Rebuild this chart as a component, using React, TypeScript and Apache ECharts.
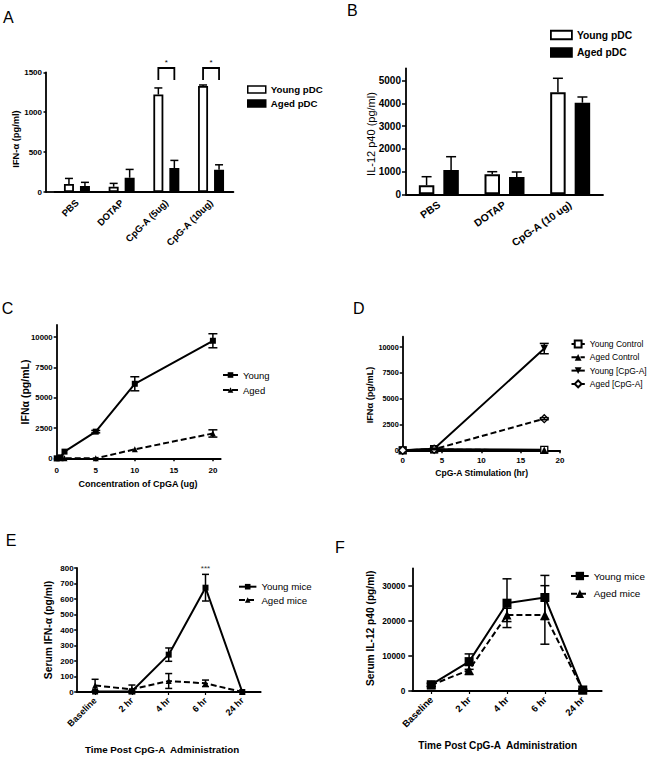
import React, { useEffect, useRef } from "react";
import * as echarts from "echarts";

const FONT = '"Liberation Sans", Arial, Helvetica, sans-serif';

// ---------- Panel A ----------
const aCategories = ["PBS", "DOTAP", "CpG-A (5ug)", "CpG-A (10ug)"];
const aYoung = [100, 66, 1221, 1329];
const aYoungErr = [70, 42, 83, 12];
const aAged = [75, 179, 300, 279];
const aAgedErr = [46, 104, 96, 62];
const aSignifCats = [2, 3];
const aBracketTop = 1554;
const aBracketArm = 1404;
const aYTicks = [0, 500, 1000, 1500];

// ---------- Panel B ----------
const bCategories = ["PBS", "DOTAP", "CpG-A (10 ug)"];
const bYoung = [396, 880, 4493];
const bYoungErr = [379, 116, 617];
const bAged = [1070, 762, 4035];
const bAgedErr = [586, 220, 251];
const bYTicks = [0, 1000, 2000, 3000, 4000, 5000];

// ---------- Panel C ----------
const cDose = [0, 0.5, 1, 5, 10, 20];
const cYoung = [0, 80, 550, 2200, 6150, 9700];
const cYoungErr = [0, 0, 0, 100, 580, 580];
const cAged = [0, 0, 0, 0, 740, 2050];
const cAgedErr = [0, 0, 0, 0, 0, 300];
const cXTicks = [0, 5, 10, 15, 20];
const cYTicks = [0, 2500, 5000, 7500, 10000];

// ---------- Panel D ----------
const dHours = [0, 4, 18];
const dYoungControl = [0, 100, 50];
const dAgedControl = [0, 80, 0];
const dYoungCpG = [0, 150, 9850];
const dYoungCpGErr = [0, 60, 500];
const dAgedCpG = [0, 100, 3060];
const dAgedCpGErr = [0, 40, 100];
const dXTicks = [0, 5, 10, 15, 20];
const dYTicks = [0, 2500, 5000, 7500, 10000];

// ---------- Panels E & F ----------
const timeCategories = ["Baseline", "2 hr", "4 hr", "6 hr", "24 hr"];
const eYoung = [3, 5, 241, 673, 0];
const eYoungErr = [5, 5, 43, 86, 0];
const eAged = [42, 17, 71, 56, 0];
const eAgedErr = [40, 28, 48, 21, 0];
const eYTicks = [0, 100, 200, 300, 400, 500, 600, 700, 800];
const eStarCat = 3;
const eStarValue = 795;

const fYoung = [1800, 8380, 25050, 26670, 300];
const fYoungErr = [500, 2200, 6950, 6300, 200];
const fAged = [1700, 6000, 21700, 21700, 300];
const fAgedErr = [400, 1300, 1900, 8350, 200];
const fYTicks = [0, 10000, 20000, 30000];

const BLACK = "#000";
const plain = (v: number) => String(v);

function yAxisCfg(gridIndex: number, max: number, ticks: number[], fontSize: number, margin: number, tickLen: number, extra: any = {}) {
  return {
    type: "value",
    gridIndex,
    min: 0,
    max,
    splitLine: { show: false },
    axisLine: { show: true, lineStyle: { color: BLACK, width: 1.8 } },
    axisTick: { show: true, inside: false, length: tickLen, lineStyle: { color: BLACK, width: 1.5 }, customValues: ticks },
    axisLabel: { color: BLACK, fontFamily: FONT, fontWeight: "bold", fontSize, margin, customValues: ticks, formatter: plain },
    ...extra,
  };
}

function errSeries(xAxisIndex: number, yAxisIndex: number, data: number[][], dx: number, cap: number, upOnly: boolean) {
  return {
    type: "custom",
    xAxisIndex,
    yAxisIndex,
    silent: true,
    z: 4,
    encode: { x: 0, y: 1 },
    data,
    renderItem: (params: any, api: any) => {
      const x = api.value(0);
      const y = api.value(1);
      const e = api.value(2);
      if (!e) return null;
      const top = api.coord([x, y + e]);
      const bot = api.coord([x, upOnly ? y : y - e]);
      const cx = top[0] + dx;
      const st = { stroke: BLACK, lineWidth: 1.5 };
      const children: any[] = [
        { type: "line", shape: { x1: cx, y1: top[1], x2: cx, y2: bot[1] }, style: st },
        { type: "line", shape: { x1: cx - cap, y1: top[1], x2: cx + cap, y2: top[1] }, style: st },
      ];
      if (!upOnly) children.push({ type: "line", shape: { x1: cx - cap, y1: bot[1], x2: cx + cap, y2: bot[1] }, style: st });
      return { type: "group", children };
    },
  };
}

function textEl(text: string, x: number, y: number, size: number, weight: string, rotation = 0, align = "center") {
  return {
    type: "text",
    x,
    y,
    rotation,
    silent: true,
    style: {
      text,
      fill: BLACK,
      fontFamily: FONT,
      fontSize: size,
      fontWeight: weight,
      align,
      verticalAlign: "middle",
      textAlign: align,
      textVerticalAlign: "middle",
    },
  };
}

function legendCfg(names: string[], left: number, top: number, w: number, h: number, gap: number, size: number, weight: string, lh: number, extra: any = {}) {
  return {
    data: names,
    orient: "vertical",
    left,
    top,
    padding: 0,
    itemWidth: w,
    itemHeight: h,
    itemGap: gap,
    selectedMode: false,
    textStyle: { color: BLACK, fontFamily: FONT, fontSize: size, fontWeight: weight, lineHeight: lh },
    ...extra,
  };
}

const A_BW = 10;
const A_GAP = 6;
const A_OFF = (A_BW + A_GAP) / 2;
const B_BW = 15.5;
const B_GAP = 9;
const B_OFF = (B_BW + B_GAP) / 2;

export default function App() {
  const ref = useRef<HTMLDivElement>(null);

  useEffect(() => {
    document.body.style.margin = "0";
    if (!ref.current) return;
    const chart = echarts.init(ref.current, null, { renderer: "svg" });

    const grids = [
      { left: 54.6, top: 72.3, width: 178.8, height: 119.7 }, // A
      { left: 406, top: 68.3, width: 197, height: 126 }, // B
      { left: 56.7, top: 325, width: 164, height: 133.3 }, // C
      { left: 402.7, top: 336.7, width: 157.3, height: 113.6 }, // D
      { left: 76.7, top: 568, width: 184, height: 124 }, // E
      { left: 412.3, top: 568.3, width: 189.4, height: 122.7 }, // F
    ].map((g) => ({ ...g, containLabel: false, outerBoundsMode: "none" }));

    const catAxisBase = {
      type: "category",
      axisLine: { show: true, lineStyle: { color: BLACK, width: 1.8 } },
      axisLabel: { color: BLACK, fontFamily: FONT, fontWeight: "bold", interval: 0 },
      splitLine: { show: false },
    };

    const valXAxis = (gridIndex: number, max: number, ticks: number[], margin: number) => ({
      type: "value",
      gridIndex,
      min: 0,
      max,
      splitLine: { show: false },
      axisLine: { show: true, lineStyle: { color: BLACK, width: 1.8 } },
      axisTick: { show: true, length: 3, lineStyle: { color: BLACK, width: 1.5 }, customValues: ticks },
      axisLabel: { color: BLACK, fontFamily: FONT, fontWeight: "bold", fontSize: 8, margin, customValues: ticks, formatter: plain },
    });

    const xAxes = [
      { ...catAxisBase, gridIndex: 0, data: aCategories, axisTick: { show: false }, axisLabel: { ...catAxisBase.axisLabel, rotate: 45, fontSize: 9.5, margin: 9 } },
      { ...catAxisBase, gridIndex: 1, data: bCategories, axisTick: { show: false }, axisLabel: { ...catAxisBase.axisLabel, rotate: 35, fontSize: 10.5, margin: 9 } },
      valXAxis(2, 21, cXTicks, 8),
      valXAxis(3, 20, dXTicks, 6.5),
      { ...catAxisBase, gridIndex: 4, data: timeCategories, axisTick: { show: true, alignWithLabel: true, length: 3, lineStyle: { color: BLACK, width: 1.2 } }, axisLabel: { ...catAxisBase.axisLabel, rotate: 45, fontSize: 9, margin: 7 } },
      { ...catAxisBase, gridIndex: 5, data: timeCategories, axisTick: { show: true, alignWithLabel: true, length: 3, lineStyle: { color: BLACK, width: 1.2 } }, axisLabel: { ...catAxisBase.axisLabel, rotate: 45, fontSize: 9.5, margin: 7 } },
    ];

    const yAxes = [
      yAxisCfg(0, 1500, aYTicks, 8, 4, 2.5, { offset: 8.6 }),
      yAxisCfg(1, 5550, bYTicks, 10, 5, 4),
      yAxisCfg(2, 11000, cYTicks, 7.8, 4, 3),
      yAxisCfg(3, 11000, dYTicks, 7.3, 4, 3),
      yAxisCfg(4, 800, eYTicks, 8, 3, 2.5),
      yAxisCfg(5, 35000, fYTicks, 8.3, 7, 4),
    ];

    const lineBase = (name: string, xi: number, data: any[], symbol: string, size: number, dashed: boolean, open = false, rotate = 0, lw = 2) => ({
      type: "line",
      name,
      xAxisIndex: xi,
      yAxisIndex: xi,
      data,
      symbol,
      symbolSize: size,
      symbolRotate: rotate,
      showSymbol: true,
      z: 3,
      lineStyle: { color: BLACK, width: lw, type: dashed ? [6, 3] : "solid" },
      itemStyle: open ? { color: "#fff", borderColor: BLACK, borderWidth: 1.3 } : { color: BLACK, borderColor: BLACK, borderWidth: 0 },
      emphasis: { disabled: true },
    });

    const pair = (xs: number[], ys: number[]) => xs.map((x, i) => [x, ys[i]]);
    const trip = (xs: number[], ys: number[], es: number[]) => xs.map((x, i) => [x, ys[i], es[i]]);
    const idx = (arr: number[]) => arr.map((_, i) => i);

    const series: any[] = [
      // A bars
      { type: "bar", name: "Young pDC", xAxisIndex: 0, yAxisIndex: 0, data: aYoung, barWidth: A_BW, barGap: `${(A_GAP / A_BW) * 100}%`, itemStyle: { color: "#fff", borderColor: BLACK, borderWidth: 1.8 }, emphasis: { disabled: true } },
      { type: "bar", name: "Aged pDC", xAxisIndex: 0, yAxisIndex: 0, data: aAged, barWidth: A_BW, barGap: `${(A_GAP / A_BW) * 100}%`, itemStyle: { color: BLACK, borderColor: BLACK, borderWidth: 1.8 }, emphasis: { disabled: true } },
      errSeries(0, 0, trip(idx(aYoung), aYoung, aYoungErr), -A_OFF, 4, true),
      errSeries(0, 0, trip(idx(aAged), aAged, aAgedErr), A_OFF, 4, true),
      {
        type: "custom",
        xAxisIndex: 0,
        yAxisIndex: 0,
        silent: true,
        z: 5,
        encode: { x: 0, y: 1 },
        data: aSignifCats.map((c) => [c, aBracketTop, aBracketArm]),
        renderItem: (params: any, api: any) => {
          const top = api.coord([api.value(0), api.value(1)]);
          const arm = api.coord([api.value(0), api.value(2)]);
          const cx = top[0];
          return {
            type: "group",
            children: [
              {
                type: "polyline",
                shape: { points: [[cx - A_OFF, arm[1]], [cx - A_OFF, top[1]], [cx + A_OFF, top[1]], [cx + A_OFF, arm[1]]] },
                style: { stroke: BLACK, fill: "none", lineWidth: 1.8 },
              },
              { type: "text", x: cx, y: top[1] - 5, style: { text: "*", fill: BLACK, fontFamily: FONT, fontSize: 8, align: "center", verticalAlign: "middle" } },
            ],
          };
        },
      },
      // B bars
      { type: "bar", name: "Young pDC", xAxisIndex: 1, yAxisIndex: 1, data: bYoung, barWidth: B_BW, barGap: `${(B_GAP / B_BW) * 100}%`, itemStyle: { color: "#fff", borderColor: BLACK, borderWidth: 2 }, emphasis: { disabled: true } },
      { type: "bar", name: "Aged pDC", xAxisIndex: 1, yAxisIndex: 1, data: bAged, barWidth: B_BW, barGap: `${(B_GAP / B_BW) * 100}%`, itemStyle: { color: BLACK, borderColor: BLACK, borderWidth: 2 }, emphasis: { disabled: true } },
      errSeries(1, 1, trip(idx(bYoung), bYoung, bYoungErr), -B_OFF, 5, true),
      errSeries(1, 1, trip(idx(bAged), bAged, bAgedErr), B_OFF, 5, true),
      // C
      lineBase("Young", 2, pair(cDose, cYoung), "rect", 6, false),
      lineBase("Aged", 2, pair(cDose, cAged), "triangle", 6, true),
      errSeries(2, 2, trip(cDose, cYoung, cYoungErr), 0, 4.5, false),
      errSeries(2, 2, trip(cDose, cAged, cAgedErr), 0, 4.5, false),
      // D
      lineBase("Young Control", 3, pair(dHours, dYoungControl), "rect", 7, false, true),
      lineBase("Aged Control", 3, pair(dHours, dAgedControl), "triangle", 7.5, true),
      lineBase("Young [CpG-A]", 3, pair(dHours, dYoungCpG), "triangle", 7.5, false, false, 180),
      lineBase("Aged [CpG-A]", 3, pair(dHours, dAgedCpG), "diamond", 8, true, true),
      errSeries(3, 3, trip(dHours, dYoungCpG, dYoungCpGErr), 0, 4.5, false),
      errSeries(3, 3, trip(dHours, dAgedCpG, dAgedCpGErr), 0, 4.5, false),
      // E
      lineBase("Young mice", 4, eYoung, "rect", 6, false),
      lineBase("Aged mice", 4, eAged, "triangle", 6, true),
      errSeries(4, 4, trip(idx(eYoung), eYoung, eYoungErr), 0, 3.5, false),
      errSeries(4, 4, trip(idx(eAged), eAged, eAgedErr), 0, 3.5, false),
      {
        type: "custom",
        xAxisIndex: 4,
        yAxisIndex: 4,
        silent: true,
        encode: { x: 0, y: 1 },
        data: [[eStarCat, eStarValue]],
        renderItem: (params: any, api: any) => {
          const p = api.coord([api.value(0), api.value(1)]);
          return { type: "text", x: p[0], y: p[1], style: { text: "***", fill: "#333", fontFamily: FONT, fontSize: 8, align: "center", verticalAlign: "middle" } };
        },
      },
      // F
      lineBase("Young mice", 5, fYoung, "rect", 9, false),
      lineBase("Aged mice", 5, fAged, "triangle", 9, true),
      errSeries(5, 5, trip(idx(fYoung), fYoung, fYoungErr), 0, 4.5, false),
      errSeries(5, 5, trip(idx(fAged), fAged, fAgedErr), 0, 4.5, false),
    ];

    const legends = [
      legendCfg(["Young pDC", "Aged pDC"], 247, 83.5, 18, 7, 2, 9.7, "bold", 12, { icon: "rect", itemStyle: { borderColor: BLACK, borderWidth: 1.5 } }),
      legendCfg(["Young pDC", "Aged pDC"], 550, 28.5, 21, 8.5, 4.5, 10.3, "bold", 13, { icon: "rect", itemStyle: { borderColor: BLACK, borderWidth: 1.8 } }),
      legendCfg(["Young", "Aged"], 222, 369, 15, 7, 3, 9.5, "normal", 12),
      legendCfg(["Young Control", "Aged Control", "Young [CpG-A]", "Aged [CpG-A]"], 570.5, 338.5, 13.3, 8.5, 2.3, 8.5, "normal", 11),
      legendCfg(["Young mice", "Aged mice"], 238, 580.7, 17.4, 7, 1.3, 9.7, "normal", 12),
      legendCfg(["Young mice", "Aged mice"], 570, 569.5, 17.7, 10.5, 4.7, 9.9, "normal", 13),
    ];

    const graphic = [
      // panel letters
      textEl("A", 3, 17, 16, "normal", 0, "left"),
      textEl("B", 347, 10, 16, "normal", 0, "left"),
      textEl("C", 1.7, 308.5, 16, "normal", 0, "left"),
      textEl("D", 353, 308.7, 16, "normal", 0, "left"),
      textEl("E", 5.7, 540, 16, "normal", 0, "left"),
      textEl("F", 335, 547, 16, "normal", 0, "left"),
      // y-axis names
      textEl("IFN-α (pg/ml)", 15.5, 139, 9.3, "bold", Math.PI / 2),
      textEl("IL-12 p40 (pg/ml)", 371, 134, 11, "normal", Math.PI / 2),
      textEl("IFNα (pg/mL)", 25, 392, 10.5, "bold", Math.PI / 2),
      textEl("IFNα (pg/mL)", 370, 395, 9.2, "bold", Math.PI / 2),
      textEl("Serum IFN-α (pg/ml)", 48, 630, 10.3, "bold", Math.PI / 2),
      textEl("Serum IL-12 p40 (pg/ml)", 370.8, 628.3, 10.2, "bold", Math.PI / 2),
      // x-axis names
      textEl("Concentration of CpGA (ug)", 138, 484, 9, "bold"),
      textEl("CpG-A Stimulation (hr)", 481.7, 472.7, 8.6, "bold"),
      textEl("Time Post CpG-A  Administration", 162, 749, 9.8, "bold"),
      textEl("Time Post CpG-A  Administration", 497.7, 745.7, 10.1, "bold"),
      // x-axis line segment joining panel A's offset y-axis
      { type: "line", silent: true, shape: { x1: 46, y1: 192, x2: 55, y2: 192 }, style: { stroke: BLACK, lineWidth: 1.8 } },
    ];

    chart.setOption({
      animation: false,
      backgroundColor: "#fff",
      textStyle: { fontFamily: FONT },
      grid: grids,
      xAxis: xAxes,
      yAxis: yAxes,
      legend: legends,
      series,
      graphic,
    });

    return () => chart.dispose();
  }, []);

  return <div ref={ref} style={{ width: 648, height: 758 }} />;
}
